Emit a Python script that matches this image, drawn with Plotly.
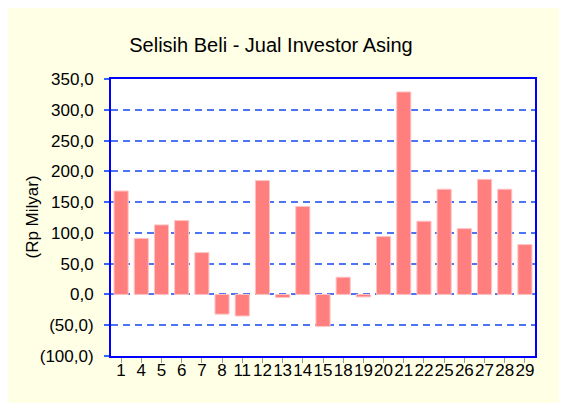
import plotly.graph_objects as go

categories = ["1", "4", "5", "6", "7", "8", "11", "12", "13", "14", "15",
              "18", "19", "20", "21", "22", "25", "26", "27", "28", "29"]
values = [168, 91, 113, 120, 68, -32, -35, 185, -5, 143, -52,
          28, -4, 94, 329, 119, 171, 107, 187, 171, 81]

y_tickvals = [-100, -50, 0, 50, 100, 150, 200, 250, 300, 350]
y_ticktext = ["(100,0)", "(50,0)", "0,0", "50,0", "100,0", "150,0",
              "200,0", "250,0", "300,0", "350,0"]

title_text = "Selisih Beli - Jual Investor Asing"
y_title = "(Rp Milyar)"

# page is offset by the 8px body margin
OFF = 8
W, H = 567 - OFF, 403 - OFF
L, R, T, B = 111 - OFF, 32, 79 - OFF, 47
PW = W - L - R

fig = go.Figure()
fig.add_trace(go.Bar(
    x=categories, y=values,
    marker=dict(color="#FF7F7F", line=dict(color="#FFC4C4", width=1)),
))

font = "Arial, Liberation Sans, sans-serif"
fig.update_layout(
    width=W, height=H,
    margin=dict(l=L, r=R, t=T, b=B, autoexpand=False),
    paper_bgcolor="#FFFFE6",
    plot_bgcolor="#FFFFFF",
    bargap=0.3,
    showlegend=False,
    title=dict(text=title_text, x=(271 - OFF) / W, xanchor="center",
               y=1 - (45 - OFF) / H, yanchor="middle",
               font=dict(family=font, size=20, color="#000000")),
    xaxis=dict(
        type="category", automargin=False, tickangle=0,
        tickmode="array", tickvals=categories, ticktext=categories,
        showline=True, linecolor="#0000FF", linewidth=2, mirror=True,
        ticks="outside", ticklen=5, tickcolor="#999999", tickwidth=1,
        ticklabelstandoff=-7,
        showgrid=False,
        tickfont=dict(family=font, size=17, color="#000000"),
    ),
    yaxis=dict(
        range=[-100, 350], automargin=False,
        tickmode="array", tickvals=y_tickvals, ticktext=y_ticktext,
        showline=True, linecolor="#0000FF", linewidth=2, mirror=True,
        ticks="outside", ticklen=5, tickcolor="#3366FF", tickwidth=1.5,
        ticklabelstandoff=7,
        showgrid=True, gridcolor="#4D74F2", gridwidth=1.5, griddash="7px,5px",
        zeroline=False,
        tickfont=dict(family=font, size=17, color="#000000"),
    ),
    annotations=[
        dict(text=y_title, textangle=-90, showarrow=False,
             xref="paper", yref="paper",
             x=(32 - OFF - L) / PW, xanchor="center",
             y=0.5, yanchor="middle",
             font=dict(family=font, size=17, color="#000000")),
    ],
)

fig.write_html("out.html")
